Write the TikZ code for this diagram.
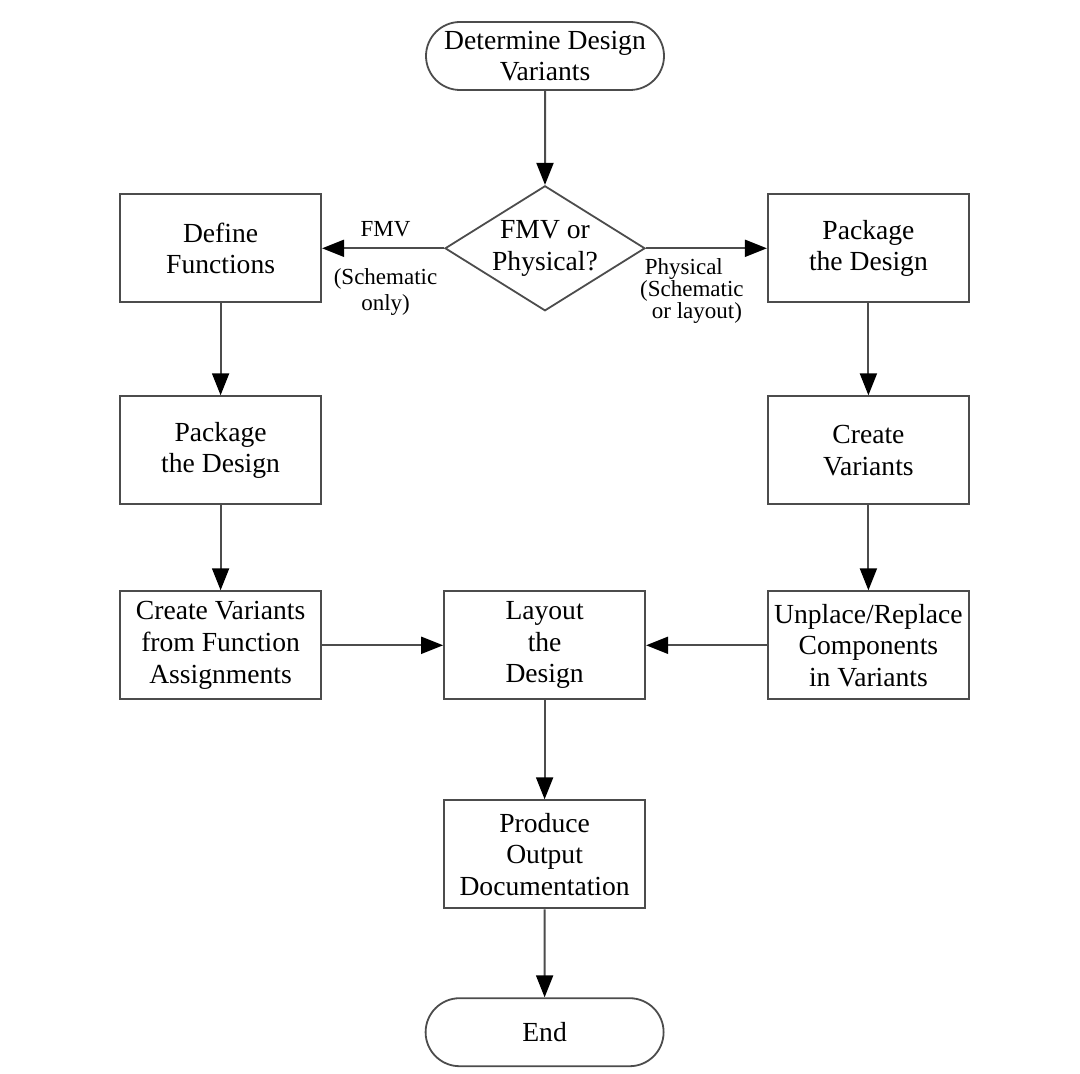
\documentclass[tikz,border=0pt]{standalone}
\usepackage{fontspec}
\setmainfont{Liberation Serif}
\usetikzlibrary{positioning,shapes.geometric,shapes.misc,arrows.meta}

\begin{document}
\begin{tikzpicture}[
    x=0.5pt, y=-0.5pt,
    every node/.style={font=\fontsize{13.8}{15.8}\selectfont, align=center},
    term/.style={rounded rectangle, draw=black!70, line width=0.9pt, minimum width=121pt, minimum height=34pt, inner sep=1pt},
    box/.style={rectangle, draw=black!70, line width=1pt, minimum width=100.5pt, minimum height=54pt, inner sep=1pt},
    decide/.style={diamond, draw=black!70, line width=0.9pt, minimum width=100pt, minimum height=62.5pt, inner sep=0pt, aspect=1.6},
    lbl/.style={font=\fontsize{11.5}{13}\selectfont},
    arr/.style={-{Triangle[length=11pt,width=8.5pt,color=black]}, draw=black!70, line width=1pt}
]
    \useasboundingbox (0,0) rectangle (1080,1074);

    % Start and decision
    \node[term] (start) at (545,56) {Determine Design\\Variants};
    \node[decide, below=47pt of start, label=center:{FMV or\\Physical?}] (dec) {};

    % Left column (FMV)
    \node[box, left=61pt of dec] (defn) {Define\\Functions};
    \node[box, below=46pt of defn] (pkgL) {Package\\the Design};
    \node[box, below=42.5pt of pkgL] (varL) {Create Variants\\from Function\\Assignments};

    % Right column (Physical)
    \node[box, right=60.5pt of dec] (pkgR) {Package\\the Design};
    \node[box, below=46pt of pkgR] (varR) {Create\\Variants};
    \node[box, below=42.5pt of varR] (unpl) {Unplace/Replace\\Components\\in Variants};

    % Middle column
    \node[box, right=60.5pt of varL] (lay) {Layout\\the\\Design};
    \node[box, below=49.5pt of lay] (prod) {Produce\\Output\\Documentation};
    \node[term, below=44pt of prod] (end) {End};

    % Arrows
    \draw[arr] (start) -- (dec);
    \draw[arr] (dec) -- node[lbl, above, pos=0.48, yshift=2pt] {FMV} node[lbl, below, pos=0.48, yshift=-6.5pt] {(Schematic\\only)} (defn);
    \draw[arr] (dec) -- node[lbl, below, pos=0.38, yshift=-1.5pt, font=\fontsize{11.5}{11}\selectfont] {Physical\hspace*{8pt}\\(Schematic\\\hspace*{5pt}or layout)} (pkgR);
    \draw[arr] (defn) -- (pkgL);
    \draw[arr] (pkgL) -- (varL);
    \draw[arr] (pkgR) -- (varR);
    \draw[arr] (varR) -- (unpl);
    \draw[arr] (varL) -- (lay);
    \draw[arr] (unpl) -- (lay);
    \draw[arr] (lay) -- (prod);
    \draw[arr] (prod) -- (end);
\end{tikzpicture}
\end{document}
